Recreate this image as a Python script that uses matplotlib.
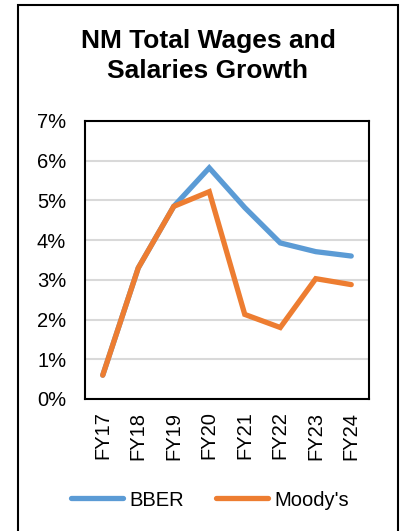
import matplotlib.pyplot as plt
from matplotlib.patches import Rectangle
from matplotlib.lines import Line2D
from matplotlib.ticker import PercentFormatter

plt.rcParams['font.family'] = ['Liberation Sans', 'DejaVu Sans']

# Datos
years = ["FY17", "FY18", "FY19", "FY20", "FY21", "FY22", "FY23", "FY24"]
bber = [0.6, 3.3, 4.85, 5.82, 4.82, 3.93, 3.71, 3.6]
moodys = [0.6, 3.3, 4.85, 5.22, 2.13, 1.8, 3.03, 2.88]

W, H = 402, 531
fig = plt.figure(figsize=(W / 100, H / 100), dpi=100)

# Marco exterior (continúa por debajo del borde inferior)
fig.patches.append(Rectangle((18 / W, -0.05), 380 / W, 1.05 - 5 / H,
                             transform=fig.transFigure, fill=False,
                             edgecolor='black', lw=1.5))

# Área del gráfico
ax = fig.add_axes([85 / W, 1 - 399 / H, 284 / W, 278 / H])
x = range(len(years))
ax.plot(x, bber, color='#5B9BD5', lw=3.8, solid_capstyle='round',
        solid_joinstyle='miter', zorder=3)
ax.plot(x, moodys, color='#ED7D31', lw=3.8, solid_capstyle='round',
        solid_joinstyle='miter', zorder=4)

ax.set_xlim(-0.5, len(years) - 0.5)
ax.set_ylim(0, 7)
ax.set_yticks(range(0, 8))
ax.yaxis.set_major_formatter(PercentFormatter(decimals=0))
ax.set_xticks(list(x))
ax.set_xticklabels(years, rotation=90)
ax.tick_params(length=0, labelsize=14.5)
ax.tick_params(axis='x', pad=9)
ax.tick_params(axis='y', pad=13.5)
ax.grid(axis='y', color='#D9D9D9', lw=1.5)
ax.set_axisbelow(True)
for s in ax.spines.values():
    s.set_color('black')
    s.set_linewidth(1.5)

# Título
fig.text(208 / W, 1 - 56 / H, "NM Total Wages and\nSalaries Growth",
         ha='center', va='center', fontsize=19, fontweight='bold',
         linespacing=1.3)

# Leyenda
handles = [Line2D([], [], color='#5B9BD5', lw=3.8, solid_capstyle='round'),
           Line2D([], [], color='#ED7D31', lw=3.8, solid_capstyle='round')]
fig.legend(handles, ["BBER", "Moody's"], loc='center',
           bbox_to_anchor=(210 / W, 1 - 500 / H), ncol=2, frameon=False,
           fontsize=14.5, handlelength=2.6, handletextpad=0.3,
           columnspacing=1.6)

fig.savefig('out.png', dpi=100)
